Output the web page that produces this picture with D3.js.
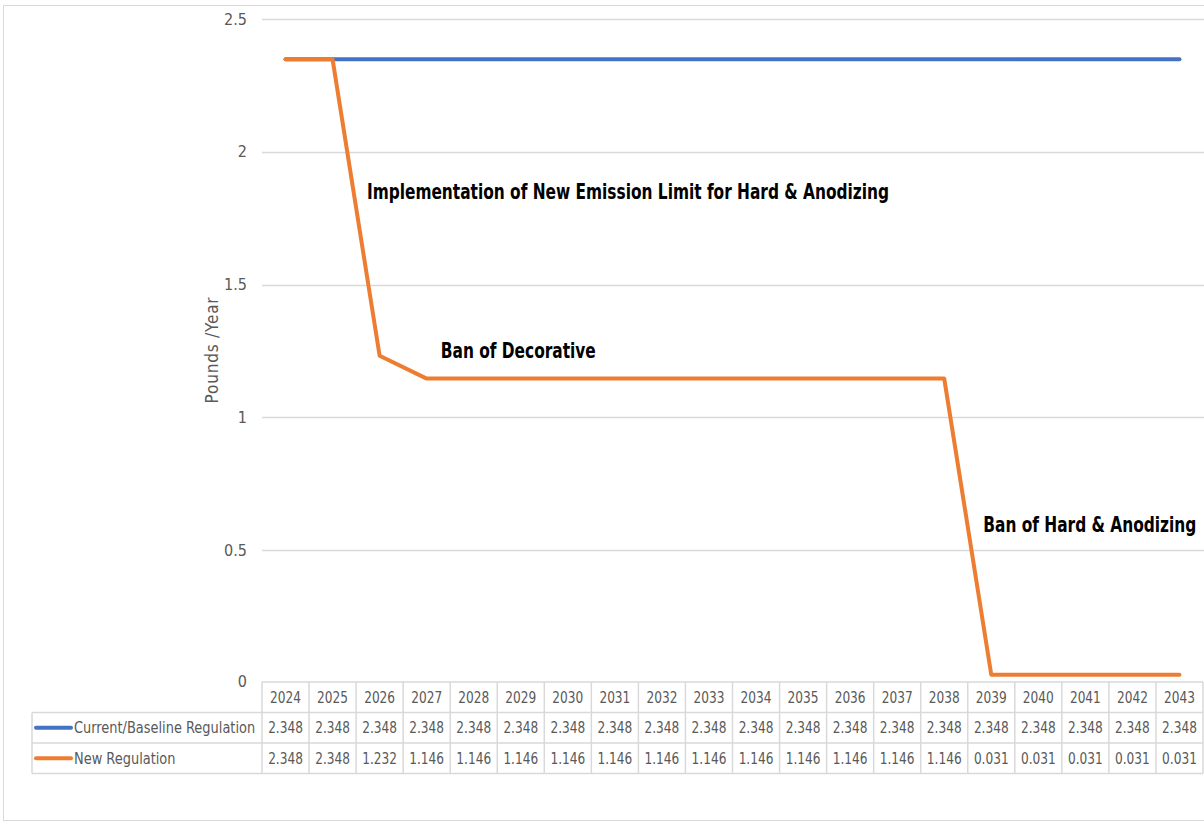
<!DOCTYPE html>
<html>
<head>
<meta charset="utf-8">
<script src="https://cdn.jsdelivr.net/npm/d3@7"></script>
<style>
  body { margin: 0; background: #fff; }
</style>
</head>
<body>
<div id="chart"></div>
<script>
const years = [2024, 2025, 2026, 2027, 2028, 2029, 2030, 2031, 2032, 2033, 2034, 2035, 2036, 2037, 2038, 2039, 2040, 2041, 2042, 2043];
const baseline = [2.348, 2.348, 2.348, 2.348, 2.348, 2.348, 2.348, 2.348, 2.348, 2.348, 2.348, 2.348, 2.348, 2.348, 2.348, 2.348, 2.348, 2.348, 2.348, 2.348];
const newReg = [2.348, 2.348, 1.232, 1.146, 1.146, 1.146, 1.146, 1.146, 1.146, 1.146, 1.146, 1.146, 1.146, 1.146, 1.146, 0.031, 0.031, 0.031, 0.031, 0.031];
const seriesNames = ["Current/Baseline Regulation", "New Regulation"];
const yTicks = [0, 0.5, 1, 1.5, 2, 2.5];
const notes = [
  { text: "Implementation of New Emission Limit for Hard & Anodizing", year: 2025.73, value: 1.85 },
  { text: "Ban of Decorative", year: 2027.3, value: 1.25 },
  { text: "Ban of Hard & Anodizing", year: 2038.83, value: 0.595 }
];

(function () {
  const width = 1204, height = 821;
  const plotLeft = 262, plotRight = 1203;
  const plotTop = 19, plotBottom = 683;
  const colors = ["#4472C4", "#ED7D31"];
  const gridColor = "#d9d9d9";
  const textColor = "#595959";
  const font = "'DejaVu Sans Condensed', 'Liberation Sans Narrow', Arial, sans-serif";

  // squeeze text horizontally (Calibri-like narrow look)
  const condense = (sel, k) => sel.each(function () {
    const w = this.getComputedTextLength();
    d3.select(this).attr("textLength", w * k).attr("lengthAdjust", "spacingAndGlyphs");
  });

  const svg = d3.select("#chart").append("svg")
    .attr("width", width)
    .attr("height", height)
    .attr("font-family", font);

  // outer chart frame
  svg.append("rect")
    .attr("x", 3.5).attr("y", 5.5)
    .attr("width", width + 10).attr("height", 815)
    .attr("fill", "none").attr("stroke", gridColor);

  const x = d3.scaleBand().domain(years).range([plotLeft, plotRight]);
  const xc = (yr) => x(Math.floor(yr)) + x.bandwidth() * (0.5 + (yr - Math.floor(yr)));
  const y = d3.scaleLinear().domain([0, 2.5]).range([plotBottom, plotTop]);

  // gridlines
  svg.append("g")
    .selectAll("line")
    .data(yTicks.filter((d) => d > 0))
    .join("line")
    .attr("x1", plotLeft).attr("x2", width)
    .attr("y1", (d) => Math.round(y(d)) + 0.5).attr("y2", (d) => Math.round(y(d)) + 0.5)
    .attr("stroke", gridColor).attr("stroke-width", 1.5);

  // y axis labels
  const yAxis = d3.axisLeft(y).tickValues(yTicks).tickSize(0).tickPadding(15).tickFormat(d3.format("~g"));
  const ya = svg.append("g").attr("transform", `translate(${plotLeft},0)`).call(yAxis);
  ya.select(".domain").remove();
  ya.selectAll("text").attr("fill", textColor).attr("font-size", 16).attr("font-family", font);
  ya.selectAll(".tick").filter((d) => d === 0).select("text").attr("dy", "0.2em");

  svg.append("text")
    .attr("transform", `translate(218,350) rotate(-90)`)
    .attr("text-anchor", "middle")
    .attr("fill", textColor)
    .attr("font-size", 17)
    .attr("letter-spacing", 0.8)
    .text("Pounds /Year");

  // lines
  const line = d3.line().x((d, i) => x(years[i]) + x.bandwidth() / 2).y((d) => y(d));
  [baseline, newReg].forEach((s, i) => {
    svg.append("path")
      .attr("d", line(s))
      .attr("fill", "none")
      .attr("stroke", colors[i])
      .attr("stroke-width", 4)
      .attr("stroke-linejoin", "round")
      .attr("stroke-linecap", "round");
  });

  // annotations (squeezed with a transform so the box matches what is drawn)
  svg.append("g")
    .selectAll("text")
    .data(notes)
    .join("text")
    .attr("transform", (d) => `translate(${xc(d.year)},${y(d.value)}) scale(0.815,1)`)
    .attr("dy", "0.35em")
    .attr("font-size", 21)
    .attr("font-weight", "bold")
    .attr("fill", "#000")
    .text((d) => d.text);

  // data table
  const rowH = 30.5;
  const headTop = 682;
  const labelLeft = 32;
  const tbl = svg.append("g").attr("font-size", 15).attr("fill", textColor);
  const gl = (x1, y1, x2, y2) => tbl.append("line")
    .attr("x1", x1).attr("y1", y1).attr("x2", x2).attr("y2", y2)
    .attr("stroke", gridColor).attr("stroke-width", 1.5);

  // horizontal lines
  gl(plotLeft, headTop, plotRight, headTop);
  for (let r = 1; r <= 3; r++) gl(labelLeft, headTop + r * rowH, plotRight, headTop + r * rowH);
  // vertical lines
  gl(labelLeft, headTop + rowH, labelLeft, headTop + 3 * rowH);
  years.forEach((yr) => gl(x(yr), headTop, x(yr), headTop + 3 * rowH));
  gl(plotRight, headTop, plotRight, headTop + 3 * rowH);

  tbl.append("g").selectAll("text").data(years).join("text")
    .attr("x", (d) => x(d) + x.bandwidth() / 2)
    .attr("y", headTop + rowH / 2)
    .attr("dy", "0.35em").attr("text-anchor", "middle")
    .text((d) => d)
    .call(condense, 0.9);

  [baseline, newReg].forEach((s, i) => {
    const cy = headTop + (i + 1.5) * rowH;
    tbl.append("line")
      .attr("x1", 36).attr("x2", 71).attr("y1", cy).attr("y2", cy)
      .attr("stroke", colors[i]).attr("stroke-width", 4).attr("stroke-linecap", "round");
    tbl.append("text").attr("x", 74).attr("y", cy).attr("dy", "0.35em").text(seriesNames[i])
      .call(condense, 0.96);
    tbl.append("g").selectAll("text").data(s).join("text")
      .attr("x", (d, j) => x(years[j]) + x.bandwidth() / 2)
      .attr("y", cy).attr("dy", "0.35em").attr("text-anchor", "middle")
      .text((d) => d3.format(".3f")(d))
      .call(condense, 0.9);
  });
})();
</script>
</body>
</html>
